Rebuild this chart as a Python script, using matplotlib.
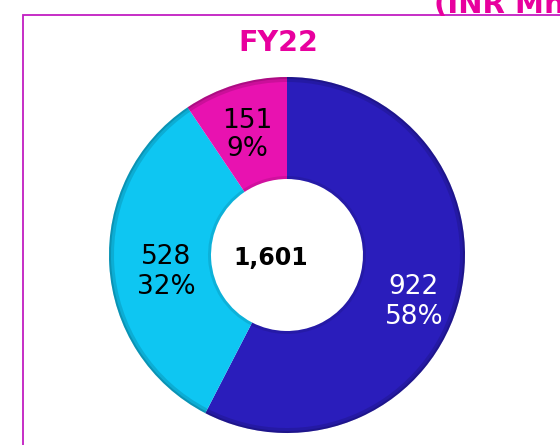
import matplotlib
matplotlib.use("Agg")
import matplotlib.pyplot as plt
from matplotlib.patches import Rectangle, Wedge

# Data
categories = ["Segment A", "Segment B", "Segment C"]
values = [922, 528, 151]
pct_labels = ["58%", "32%", "9%"]
total_label = "1,601"
title = "FY22"
unit_label = "(INR Mn)"

colors = ["#2A1DBB", "#0EC6F2", "#E812B0"]
text_colors = ["white", "black", "black"]

W, H = 560, 445
fig = plt.figure(figsize=(W / 100, H / 100), dpi=100)
ax = fig.add_axes([0, 0, 1, 1])

cx, cy = 287, H - 255
R = 178
inner = 76

wedges, _ = ax.pie(values, colors=colors, startangle=90, counterclock=False,
                   center=(cx, cy), radius=R,
                   wedgeprops=dict(width=R - inner, edgecolor="none"))

# subtle 3D shading near the rims
for w in wedges:
    t1, t2 = w.theta1, w.theta2
    for r0, r1, a in [(R - 5, R, 0.12), (R - 2, R, 0.15), (inner, inner + 3, 0.10)]:
        ax.add_patch(Wedge((cx, cy), r1, t1, t2, width=r1 - r0,
                           facecolor="black", alpha=a, edgecolor="none"))

ax.set_xlim(0, W)
ax.set_ylim(0, H)
ax.set_aspect("equal")
ax.axis("off")

# Border box
ax.add_patch(Rectangle((23, -10), W + 20, H - 15 + 10, fill=False,
                       edgecolor="#C21DC2", linewidth=1.3, clip_on=True))

# Titles
ax.text(278, H - 43, title, ha="center", va="center", fontsize=20.5,
        fontweight="bold", color="#E8009E")
ax.text(434, H - 13, unit_label, ha="left", va="baseline", fontsize=21,
        fontweight="bold", color="#E8009E")

# Slice labels
label_pos = [(414, 302), (166, 272), (247, 135)]
for v, p, (lx, ly), tc in zip(values, pct_labels, label_pos, text_colors):
    ax.text(lx, H - ly, f"{v}\n{p}", ha="center", va="center", fontsize=19,
            color=tc, linespacing=1.15)

ax.text(271, H - 258, total_label, ha="center", va="center", fontsize=17,
        fontweight="bold", color="black")

fig.savefig("out.png", dpi=100)
